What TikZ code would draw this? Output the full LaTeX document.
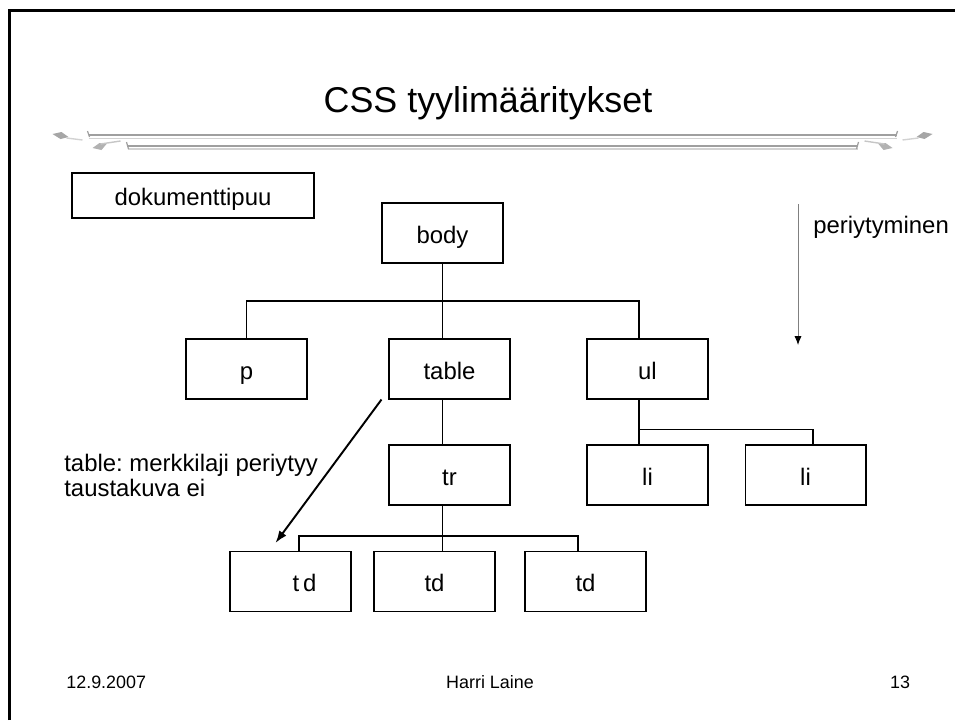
\documentclass[tikz,border=0pt]{standalone}
\usepackage{fontspec}
\setmainfont{Liberation Sans}
\frenchspacing
\usetikzlibrary{arrows.meta,calc}
\begin{document}
\begin{tikzpicture}[x=0.02cm,y=-0.02cm,
		box/.style={draw,line width=0.6pt,minimum width=2.42cm,minimum height=1.2cm,inner sep=0pt,text height=14pt,text depth=2.6pt,font=\fontsize{13.6}{14}\selectfont},
		txt/.style={inner sep=0pt,font=\fontsize{13.6}{14}\selectfont},
		foot/.style={inner sep=0pt,anchor=base,font=\fontsize{10.2}{12}\selectfont},
		tree/.style={line width=0.6pt}]
		\useasboundingbox (0,0) rectangle (955,720);
		\draw[line width=1.5pt] (9.7,720) -- (9.7,10.5) -- (955,10.5);
		\node[inner sep=0pt,anchor=base,font=\fontsize{20.4}{24}\selectfont] (title) at (488,112) {CSS tyylimääritykset};
		\foreach \s in {1,-1}{
			\begin{scope}[shift={(492.5,0)},xscale=\s]
				\draw[gray!75,line width=0.7pt] (-404,135) -- (0,135);
				\draw[gray!35,line width=0.7pt] (-404,138.5) -- (0,138.5);
				\draw[gray!75,line width=0.7pt] (-365,146) -- (0,146);
				\draw[gray!35,line width=0.7pt] (-365,149) -- (0,149);
				\draw[gray!75,line width=0.7pt] (-405,131) -- (-403,137);
				\draw[gray!75,line width=0.7pt] (-366,142) -- (-364,149);
				\fill[gray!70] (-440,134) -- (-431,132) -- (-424,137) -- (-432,139) -- cycle;
				\draw[gray!35,line width=0.8pt] (-426,138) -- (-410,140);
				\fill[gray!60] (-400,148) -- (-393,143) -- (-386,144) -- (-391,150) -- cycle;
				\draw[gray!45,line width=0.8pt] (-392,144) -- (-372,141);
			\end{scope}
		}
		% tree nodes
		\node[box,minimum width=4.84cm,minimum height=0.9cm] (doc) at (193,195.5) {dokumenttipuu};
		\node[box] (body) at (442.5,233) {body};
		\node[box] (p) at (246.5,369) {p};
		\node[box] (table) at (449.5,369) {table};
		\node[box] (ul) at (647.5,369) {ul};
		\node[box] (tr) at (449.5,475) {tr};
		\node[box] (li1) at (647.5,475) {li};
		\node[box] (li2) at (805.5,475) {li};
		\node[box] (td1) at (290.5,581.5) {\hspace*{16pt}t\,d};
		\node[box] (td2) at (434.5,581.5) {td};
		\node[box] (td3) at (585.5,581.5) {td};
		\coordinate (j1) at (442,301);
		\coordinate (j2) at (442,536);
		\draw[tree] (body.south) -- (body.south |- table.north);
		\draw[tree] (p.north) |- (j1) -| ($(ul.north)+(-8.5,0)$);
		\draw[tree] (body.south |- table.south) -- (body.south |- tr.north);
		\draw[tree] (body.south |- tr.south) -- (body.south |- td2.north);
		\draw[tree] ($(td1.north)+(8.5,0)$) |- (j2) -| ($(td3.north)+(-7.5,0)$);
		\draw[tree] ($(ul.south)+(-8.5,0)$) -- ($(li1.north)+(-8.5,0)$);
		\draw[tree] ($(ul.south)+(-8.5,30)$) -| ($(li2.north)+(7.5,0)$);
		% notes
		\node[txt,anchor=north west,align=left] (note) at (64,454) {table: merkkilaji periytyy\\taustakuva ei};
		\draw[line width=1.1pt,-{Latex[length=7pt,width=5pt]}] ($(table.south west)+(-7,0)$) -- ($(td1.north west)+(46,-8)$);
		\node[txt,anchor=base west] (inh) at (813,233) {periytyminen};
		\coordinate (inhtop) at (798,204);
		\coordinate (inhend) at (798,345);
		\draw[gray,line width=0.5pt,-{Latex[length=5pt,width=4pt,color=black]}] (inhtop) -- (inhend);
		% footer
		\node[foot,anchor=base west] (date) at (66,688) {12.9.2007};
		\node[foot] (author) at (490,688) {Harri Laine};
		\node[foot] (page) at (900,688) {13};
	\end{tikzpicture}
\end{document}
